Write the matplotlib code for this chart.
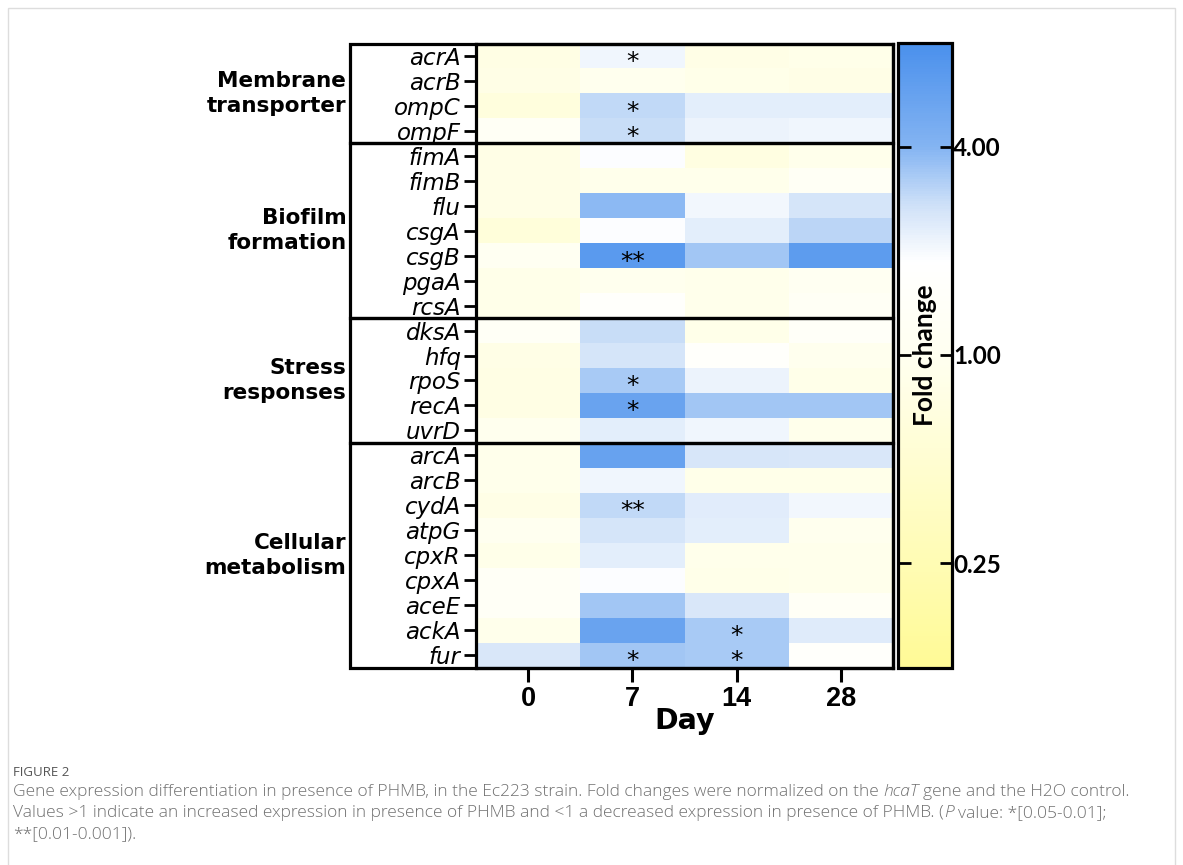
import numpy as np
import matplotlib.pyplot as plt
from matplotlib.colors import LinearSegmentedColormap, LogNorm
from matplotlib.patches import Rectangle
from matplotlib.ticker import NullLocator

# genes (rows) and sampling days (columns)
genes = ['acrA', 'acrB', 'ompC', 'ompF',
         'fimA', 'fimB', 'flu', 'csgA', 'csgB', 'pgaA', 'rcsA',
         'dksA', 'hfq', 'rpoS', 'recA', 'uvrD',
         'arcA', 'arcB', 'cydA', 'atpG', 'cpxR', 'cpxA', 'aceE', 'ackA', 'fur']
days = ['0', '7', '14', '28']

groups = ['Membrane\ntransporter', 'Biofilm\nformation', 'Stress\nresponses', 'Cellular\nmetabolism']
group_sizes = [4, 7, 5, 9]

# fold change, columns = day 0, 7, 14, 28
fold = np.array([
    [0.75, 2.1, 0.80, 0.85],   # acrA
    [0.80, 0.95, 0.85, 0.80],  # acrB
    [0.65, 2.9, 2.3, 2.3],     # ompC
    [1.2, 2.8, 2.15, 2.1],     # ompF
    [0.80, 1.9, 0.70, 0.90],   # fimA
    [0.80, 0.90, 0.90, 1.2],   # fimB
    [0.80, 3.8, 2.05, 2.6],    # flu
    [0.60, 1.9, 2.3, 3.0],     # csgA
    [1.1, 6.5, 3.4, 6.3],      # csgB
    [0.85, 0.95, 0.90, 1.1],   # pgaA
    [0.85, 1.6, 0.90, 1.2],    # rcsA
    [1.3, 2.8, 0.85, 1.4],     # dksA
    [0.80, 2.6, 1.6, 0.95],    # hfq
    [0.75, 3.3, 2.15, 0.85],   # rpoS
    [0.75, 5.5, 3.4, 3.4],     # recA
    [0.95, 2.3, 2.1, 0.90],    # uvrD
    [0.90, 5.6, 2.55, 2.5],    # arcA
    [0.90, 2.1, 0.85, 0.85],   # arcB
    [0.80, 2.9, 2.35, 2.05],   # cydA
    [1.0, 2.6, 2.3, 0.95],     # atpG
    [0.85, 2.3, 0.90, 0.90],   # cpxR
    [1.3, 1.9, 0.85, 0.90],    # cpxA
    [1.3, 3.4, 2.5, 1.3],      # aceE
    [0.90, 5.5, 3.3, 2.4],     # ackA
    [2.5, 3.4, 3.3, 1.6],      # fur
])

# significance marks
star_genes = ['acrA', 'ompC', 'ompF', 'csgB', 'rpoS', 'recA', 'cydA', 'ackA', 'fur', 'fur']
star_days = ['7', '7', '7', '7', '7', '7', '7', '14', '7', '14']
star_marks = ['*', '*', '*', '**', '*', '*', '**', '*', '*', '*']

cbar_ticks = [0.25, 1, 4]
cbar_labels = ['0.25', '1.00', '4.00']

W, H = 1183, 865


def fx(px):
    return px / W


def fy(py):
    return 1 - py / H


cmap = LinearSegmentedColormap.from_list('yw_bl', [
    (0.0, '#fffa96'),
    (0.5, '#fffff0'),
    (0.65, '#ffffff'),
    (0.74, '#cfe1f8'),
    (5 / 6, '#84b4f2'),
    (1.0, '#4a90ec'),
])

fig = plt.figure(figsize=(W / 100, H / 100), dpi=100)

# light frame round the figure
fig.patches.append(Rectangle((fx(8), fy(900)), fx(1175) - fx(8), fy(8) - fy(900),
                             transform=fig.transFigure, fill=False,
                             edgecolor='#dddddd', lw=1))

top, bottom = 43.5, 667.5
ax = fig.add_axes([fx(476), fy(bottom), (893 - 476) / W, (bottom - top) / H])
mesh = ax.pcolormesh(np.arange(len(days) + 1), np.arange(len(genes) + 1), fold,
                     cmap=cmap, norm=LogNorm(vmin=0.125, vmax=8))
ax.set_xlim(0, len(days))
ax.set_ylim(len(genes), 0)

for s in ax.spines.values():
    s.set_linewidth(2.3)

ax.set_yticks(np.arange(len(genes)) + 0.5)
ax.set_yticklabels(genes, fontsize=16.5, fontstyle='italic', family='DejaVu Sans')
ax.set_xticks(np.arange(len(days)) + 0.5)
ax.set_xticklabels(days, fontsize=19.5, fontweight='bold', family='Liberation Sans')
ax.tick_params(axis='y', length=9, width=2, pad=2)
ax.tick_params(axis='x', length=10, width=2.2, pad=3)
ax.set_xlabel('Day', fontsize=20.5, fontweight='bold', family='DejaVu Sans', labelpad=-3)

# group boxes and labels
col_w = (893 - 476) / len(days)
xl = -(476 - 350) / col_w
row0 = 0
for name, n in zip(groups, group_sizes):
    ax.add_patch(Rectangle((xl, row0), len(days) - xl, n, fill=False, lw=2.3,
                           edgecolor='black', clip_on=False, zorder=5))
    ax.text(xl - 0.035, row0 + n / 2, name, ha='right', va='center', fontsize=15.5,
            fontweight='bold', family='DejaVu Sans', linespacing=1.3)
    row0 += n

for g, d, m in zip(star_genes, star_days, star_marks):
    ax.text(days.index(d) + 0.5, genes.index(g) + 0.74, m, ha='center', va='center',
            fontsize=18, family='DejaVu Sans')

# colour bar
cax = fig.add_axes([fx(898), fy(bottom), (952 - 898) / W, (bottom - top + 1) / H])
cb = fig.colorbar(mesh, cax=cax, ticks=cbar_ticks)
cb.set_ticklabels(cbar_labels)
cax.yaxis.set_minor_locator(NullLocator())
cb.outline.set_linewidth(2.3)
cax.tick_params(which='both', direction='in', left=True, right=True, length=9,
                width=2, pad=1, labelsize=17.5)
for t in cax.get_yticklabels():
    t.set_family('Lato')
    t.set_fontweight('bold')
cax.text(0.5, 1.0, 'Fold change', rotation=90, ha='center', va='center',
         transform=cax.get_yaxis_transform(), fontsize=19, fontweight='bold', family='Lato')

# caption
cap_font = dict(family='Open Sans', fontsize=12.5, color='#707070', fontweight='light')
fig.text(fx(13), fy(772), 'FIGURE 2', va='center', family='Open Sans', fontsize=9.5,
         color='#555555')

lines = [
    [('Gene expression differentiation in presence of PHMB, in the Ec223 strain. '
      'Fold changes were normalized on the', 'normal'), (' hcaT', 'italic'),
     (' gene and the H2O control.', 'normal')],
    [('Values >1 indicate an increased expression in presence of PHMB and <1 a decreased '
      'expression in presence of PHMB. (', 'normal'), ('P', 'italic'),
     (' value: *[0.05-0.01];', 'normal')],
    [('**[0.01-0.001]).', 'normal')],
]
space = 3.4
for i, pieces in enumerate(lines):
    last = None
    for txt, style in pieces:
        off = space if txt.startswith(' ') else 0
        if last is None:
            last = fig.text(fx(13), fy(796 + 21 * i), txt, va='baseline', fontstyle=style,
                            **cap_font)
        else:
            last = plt.annotate(txt.strip(), xy=(1, 0), xycoords=last, xytext=(off, 0),
                                textcoords='offset points', va='bottom', ha='left',
                                fontstyle=style, annotation_clip=False, **cap_font)

fig.savefig('out.png', dpi=100)
